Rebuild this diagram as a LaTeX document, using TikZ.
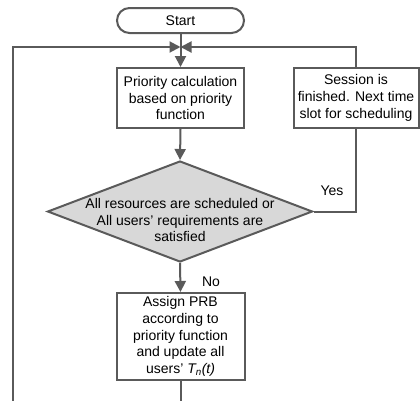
\documentclass[tikz,border=0pt]{standalone}
\usepackage{fontspec}
\setmainfont{Liberation Sans}
\usetikzlibrary{arrows.meta,shapes.geometric}
\definecolor{edge}{HTML}{5A5A5A}
\definecolor{decfill}{HTML}{D8D8D8}
\tikzset{
  every node/.style={font=\fontsize{14}{16.8}\selectfont, text=black},
  box/.style={draw=edge, line width=2pt, fill=white, align=center, inner sep=1pt},
  term/.style={box, rounded corners=12.5pt, minimum width=127pt, minimum height=25pt},
  proc/.style={box, minimum width=127pt},
  decision/.style={draw=edge, line width=2pt, fill=decfill, diamond, inner sep=0pt,
    minimum width=265pt, minimum height=101pt},
  line/.style={draw=edge, line width=2pt},
  arrow/.style={line, -{Triangle[length=11pt,width=11pt]}},
  lbl/.style={inner sep=0pt}
}
\begin{document}
\begin{tikzpicture}[x=1pt,y=-1pt]
  \useasboundingbox (0,0) rectangle (420,400);
  % nodes
  \node[term] (start) at (180.5,20.5) {Start};
  \coordinate (j) at (180.5,47);
  \node[proc, minimum height=60pt] (calc) at (180.5,98)
    {Priority calculation\\based on priority\\function};
  \node[proc, minimum width=125pt, minimum height=60pt] (sess) at (356,98)
    {Session is\\finished. Next time\\slot for scheduling};
  \node[decision] (dec) at (180,211.5) {};
  \node[lbl, align=center] (dectext) at (180,220)
    {All resources are scheduled or\\All users' requirements are\\satisfied};
  \node[proc, minimum width=128pt, minimum height=87pt] (assign) at (180.5,336.5)
    {Assign PRB\\according to\\priority function\\and update all\\users' \textit{T\textsubscript{n}(t)}};
  \node[lbl] (yes) at (332,191) {Yes};
  \node[lbl] (no) at (211,282) {No};
  \coordinate (loopbot) at (13,401);
  \coordinate (loopcorner) at (13,47);
  \coordinate (down) at (180.5,401);
  % connectors
  \draw[line] (start.south) -- (j);
  \draw[arrow] (j) -- (calc.north);
  \draw[arrow] (calc.south) -- (dec.north);
  \draw[arrow] (dec.south) -- (assign.north);
  \draw[line] (dec.east) -| (sess.south);
  \draw[arrow] (sess.north) |- (j);
  \draw[arrow] (loopbot) -- (loopcorner) -- (j);
  \draw[line] (assign.south) -- (down);
\end{tikzpicture}
\end{document}
